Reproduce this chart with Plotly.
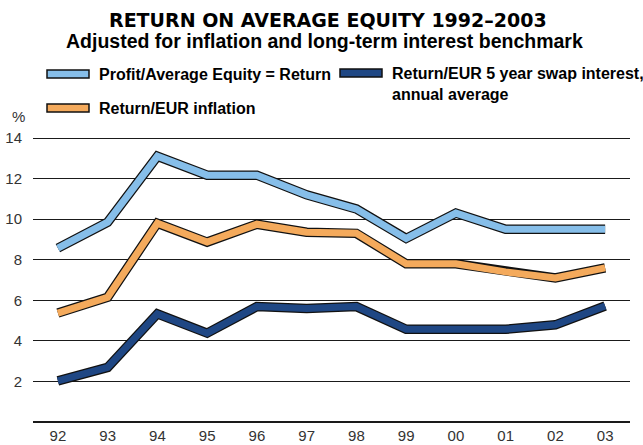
import plotly.graph_objects as go

years = ["92", "93", "94", "95", "96", "97", "98", "99", "00", "01", "02", "03"]
return_equity = [8.57, 9.85, 13.1, 12.17, 12.17, 11.2, 10.5, 9.05, 10.3, 9.5, 9.5, 9.5]
return_inflation = [5.37, 6.15, 9.8, 8.87, 9.75, 9.36, 9.3, 7.8, 7.8, 7.4, 7.1, 7.6]
return_swap = [2.03, 2.69, 5.33, 4.38, 5.69, 5.6, 5.69, 4.57, 4.57, 4.57, 4.79, 5.72]
y_ticks = [2, 4, 6, 8, 10, 12, 14]

names = ["Profit/Average Equity = Return", "Return/EUR inflation",
         "Return/EUR 5 year swap interest,<br>annual average"]
colors = ["#86BEE9", "#F4AA5C", "#1F4784"]
series = [return_equity, return_inflation, return_swap]

x = list(range(len(years)))
fig = go.Figure()
for vals, col, nm in zip(series, colors, names):
    fig.add_trace(go.Scatter(x=x, y=vals, mode="lines",
                             line=dict(color="#111111", width=9.5),
                             showlegend=False, hoverinfo="skip"))
    fig.add_trace(go.Scatter(x=x, y=vals, mode="lines", name=nm,
                             line=dict(color=col, width=7),
                             showlegend=False))

W, H = 643, 445
plot_l, plot_r, plot_t, plot_b = 33, 630, 137, 422

fig.update_layout(
    width=W, height=H,
    margin=dict(l=plot_l, r=W - plot_r, t=plot_t, b=H - plot_b, autoexpand=False),
    paper_bgcolor="white", plot_bgcolor="white",
    showlegend=False,
    font=dict(family="Liberation Sans", color="#000"),
    xaxis=dict(range=[-0.5, 11.5], tickvals=x, ticktext=years, automargin=False,
               showgrid=False, zeroline=False, showline=False, ticklabelstandoff=3,
               ticks="", tickfont=dict(size=15, color="#333"), fixedrange=True),
    yaxis=dict(range=[0, 14.05], tickvals=y_ticks, showgrid=True, automargin=False,
               gridcolor="#1a1a1a", gridwidth=1.4, zeroline=True, ticklabelstandoff=10,
               zerolinecolor="#1a1a1a", zerolinewidth=1.6,
               ticks="", tickfont=dict(size=15, color="#333"), fixedrange=True),
)


def to_paper(xp, yp):
    return (xp - plot_l) / (plot_r - plot_l), (plot_b - yp) / (plot_b - plot_t)


titles = [
    ("<b>RETURN ON AVERAGE EQUITY 1992–2003</b>", 328, 20, 19, "DejaVu Sans"),
    ("<b>Adjusted for inflation and long-term interest benchmark</b>", 324, 41, 19.5, "Liberation Sans"),
]
for text, tx, ty, size, fam in titles:
    xp, yp = to_paper(tx, ty)
    fig.add_annotation(x=xp, y=yp, xref="paper", yref="paper", text=text,
                       showarrow=False, xanchor="center", yanchor="middle",
                       font=dict(size=size, family=fam, color="#000"))

# Legend (manual)
legend_items = [
    (names[0], colors[0], 47, 74),
    (names[2], colors[2], 340, 73),
    (names[1], colors[1], 47, 108),
]
for nm, col, lx, ly in legend_items:
    x0, y0 = to_paper(lx, ly - 4)
    x1, y1 = to_paper(lx + 42, ly + 4)
    fig.add_shape(type="rect", xref="paper", yref="paper", x0=x0, x1=x1, y0=y1, y1=y0,
                  fillcolor=col, line=dict(color="#111", width=1.5))
    tx, ty = to_paper(lx + 50, ly - 10)
    fig.add_annotation(x=tx, y=ty, xref="paper", yref="paper", text="<b>" + nm + "</b>",
                       showarrow=False, xanchor="left", yanchor="top", align="left",
                       font=dict(size=16, family="Liberation Sans", color="#000"))

px_, py_ = to_paper(18, 116)
fig.add_annotation(x=px_, y=py_, xref="paper", yref="paper", text="%", showarrow=False,
                   xanchor="center", yanchor="middle", font=dict(size=15, color="#333"))

fig.write_html("out.html", config={"displayModeBar": False},
               post_script="document.body.style.margin='0';document.body.style.overflow='hidden';")
